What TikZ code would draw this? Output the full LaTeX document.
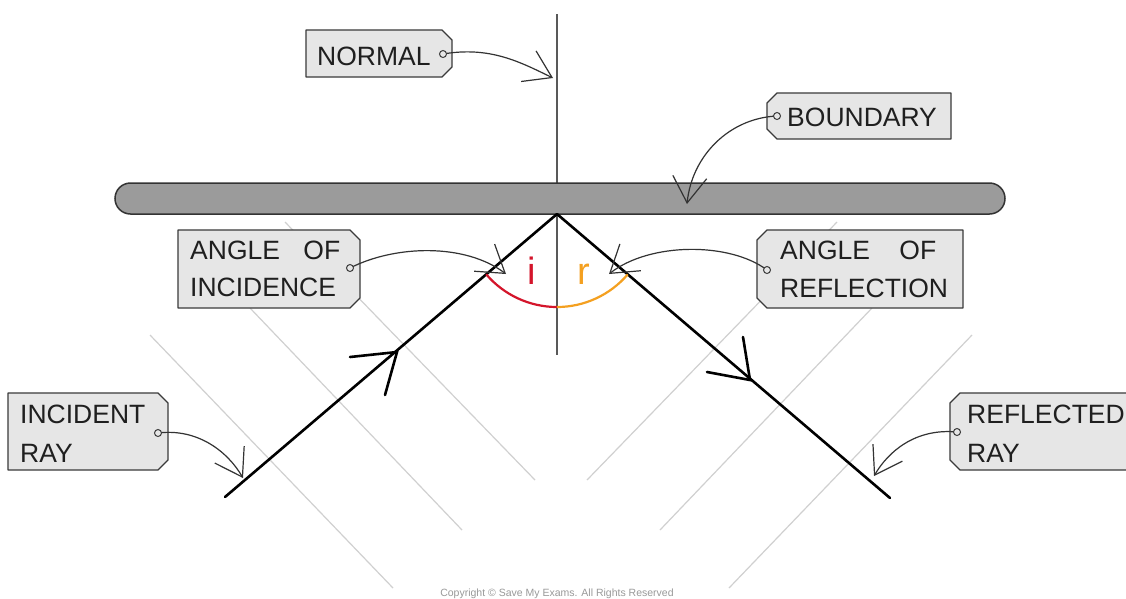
\documentclass[tikz,border=0pt]{standalone}
\usepackage{fontspec}
\setmainfont{Liberation Sans}
\usetikzlibrary{arrows.meta}
\definecolor{tagfill}{HTML}{E6E6E6}
\definecolor{tagline}{HTML}{3A3A3A}
\definecolor{barfill}{HTML}{9B9B9B}
\definecolor{wm}{HTML}{D0D0D0}
\definecolor{angred}{HTML}{D4152B}
\definecolor{angorange}{HTML}{F4A020}
\begin{document}
\begin{tikzpicture}[x=1pt,y=-1pt,
 tagshape/.style={fill=tagfill,draw=tagline,line width=1.3pt,line join=round},
 tagtext/.style={anchor=base west,inner sep=0pt,font=\fontsize{26.5}{30}\selectfont,text=black!88},
 hole/.style={draw=tagline,line width=1pt,fill=tagfill},
 pointer/.style={draw=black!80,line width=1.2pt,-{Straight Barb[length=26pt,width=34pt,line width=1.2pt]}},
 ray/.style={line width=2.6pt,line cap=round},
 chev/.style={line width=2.6pt,line cap=round,line join=miter},
 wmline/.style={draw=wm,line width=1.2pt}]
\useasboundingbox[fill=white] (0,0) rectangle (1126,598);

% watermark lines
\draw[wmline] (150,335) -- (393,588);
\draw[wmline] (250,308) -- (462,530);
\draw[wmline] (285,222) -- (535,480);
\draw[wmline] (972,335) -- (729,588);
\draw[wmline] (872,308) -- (660,530);
\draw[wmline] (837,222) -- (587,480);

% normal and boundary
\coordinate (apex) at (557,214);
\coordinate (ntop) at (557,14);
\coordinate (nbot) at (557,355);
\draw[black!65,line width=2pt] (ntop) -- (nbot);
\draw[fill=barfill,draw=black!80,line width=1.5pt,rounded corners=15.5pt] (115,183) rectangle (1005,214);

% rays
\coordinate (istart) at (225,497);
\coordinate (rend) at (890,498);
\draw[ray] (istart) -- (apex);
\draw[ray] (apex) -- (rend);
\draw[chev] (350,357) -- (397,352) -- (385,395);
\draw[chev] (707,372) -- (750,380) -- (743,337);

% angle arcs
\draw[angred,line width=2.2pt] ([shift={(139.6:93)}]apex) arc[start angle=139.6,end angle=90,radius=93];
\draw[angorange,line width=2.2pt] ([shift={(90:93)}]apex) arc[start angle=90,end angle=40.5,radius=93];
\node[anchor=base,inner sep=0pt,text=angred,font=\fontsize{38}{40}\selectfont] (ilab) at (532,284) {i};
\node[anchor=base,inner sep=0pt,text=angorange,font=\fontsize{38}{40}\selectfont] (rlab) at (584,284) {r};

% tags
\draw[tagshape] (306,30) -- (442,30) -- (452,40) -- (452,67) -- (442,77) -- (306,77) -- cycle;
\draw[tagshape] (777,93) -- (951,93) -- (951,139) -- (777,139) -- (767,129) -- (767,103) -- cycle;
\draw[tagshape] (178,230) -- (350,230) -- (360,240) -- (360,298) -- (350,308) -- (178,308) -- cycle;
\draw[tagshape] (767,230) -- (963,230) -- (963,308) -- (767,308) -- (757,298) -- (757,240) -- cycle;
\draw[tagshape] (8,393) -- (158,393) -- (168,403) -- (168,460) -- (158,470) -- (8,470) -- cycle;
\draw[tagshape] (960,393) -- (1140,393) -- (1140,470) -- (960,470) -- (950,460) -- (950,403) -- cycle;

% pointer end points
\coordinate (ndot) at (443,54);   \coordinate (ntip) at (553,78);
\coordinate (bdot) at (777,116);  \coordinate (btip) at (687,204);
\coordinate (aidot) at (350,268); \coordinate (aitip) at (506,274);
\coordinate (ardot) at (767,270); \coordinate (artip) at (609,274);
\coordinate (irdot) at (158,433); \coordinate (irtip) at (243,478);
\coordinate (rrdot) at (957,432); \coordinate (rrtip) at (874,476);

\draw[pointer] (ndot) .. controls (490,46) and (520,62) .. (ntip);
\draw[pointer] (bdot) .. controls (730,118) and (692,155) .. (btip);
\draw[pointer] (aidot) .. controls (395,245) and (465,243) .. (aitip);
\draw[pointer] (ardot) .. controls (730,242) and (650,242) .. (artip);
\draw[pointer] (irdot) .. controls (198,428) and (228,452) .. (irtip);
\draw[pointer] (rrdot) .. controls (915,428) and (888,452) .. (rrtip);

\foreach \d in {ndot,bdot,aidot,ardot,irdot,rrdot} \draw[hole] (\d) circle[radius=3.5];

% texts
\node[tagtext] (tnormal) at (317,65) {NORMAL};
\node[tagtext] (tbound) at (787,126) {BOUNDARY};
\node[tagtext] (tai1) at (190,259) {ANGLE\hspace{16pt} OF};
\node[tagtext] (tai2) at (190,296) {INCIDENCE};
\node[tagtext] (tar1) at (780,259) {ANGLE\hspace{22pt} OF};
\node[tagtext] (tar2) at (780,297) {REFLECTION};
\node[tagtext] (tir1) at (20,423) {INCIDENT};
\node[tagtext] (tir2) at (20,462) {RAY};
\node[tagtext] (trr1) at (967,423) {REFLECTED};
\node[tagtext] (trr2) at (967,462) {RAY};

\node[anchor=base,inner sep=0pt,text=black!40,font=\fontsize{10.5}{12}\selectfont] (copy) at (557,596) {Copyright © Save My Exams. All Rights Reserved};
\end{tikzpicture}
\end{document}
